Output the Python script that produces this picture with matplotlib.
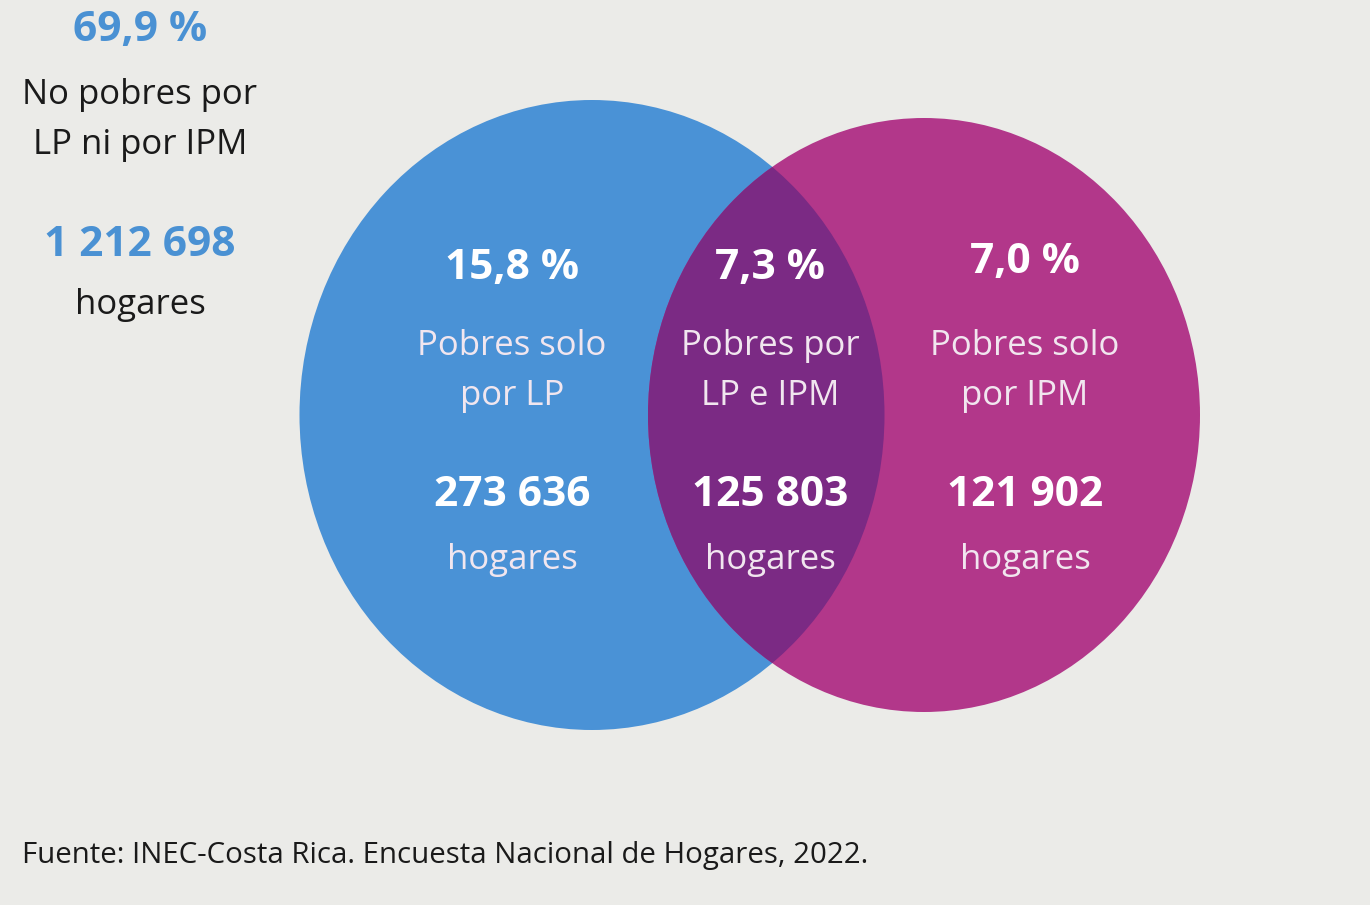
import matplotlib
matplotlib.use("Agg")
import matplotlib.pyplot as plt
from matplotlib.patches import Ellipse

# Data
regions = ["Pobres solo\npor LP", "Pobres por\nLP e IPM", "Pobres solo\npor IPM"]
percents = ["15,8 %", "7,3 %", "7,0 %"]
households = ["273 636", "125 803", "121 902"]
outside_pct = "69,9 %"
outside_label = "No pobres por\nLP ni por IPM"
outside_households = "1 212 698"
unit = "hogares"
source = "Fuente: INEC-Costa Rica. Encuesta Nacional de Hogares, 2022."

plt.rcParams['font.family'] = ['Open Sans', 'DejaVu Sans']

fig = plt.figure(figsize=(13.7, 9.05), dpi=100)
fig.patch.set_facecolor("#ebebe8")
ax = fig.add_axes([0, 0, 1, 1])
ax.set_xlim(0, 1370)
ax.set_ylim(905, 0)
ax.axis("off")

blue = "#4a92d6"
magenta = "#b2378a"
overlap = "#7b2a84"

ax.add_patch(Ellipse((592, 415), 585, 630, facecolor=blue, edgecolor="none", zorder=1))
ax.add_patch(Ellipse((924, 415), 552, 594, facecolor=magenta, edgecolor="none", zorder=2))
clip = Ellipse((592, 415), 585, 630, transform=ax.transData, facecolor="none", edgecolor="none")
ax.add_patch(clip)
ov = Ellipse((924, 415), 552, 594, facecolor=overlap, edgecolor="none", zorder=3)
ax.add_patch(ov)
ov.set_clip_path(clip)

xs = [512, 770, 1025]
pct_y = [268, 268, 262]
for x, py, p, r, h in zip(xs, pct_y, percents, regions, households):
    ax.text(x, py, p, ha="center", va="center", color="white", fontsize=30.5,
            fontweight="bold", zorder=5)
    ax.text(x, 371, r, ha="center", va="center", color="#f1e6ef", fontsize=25,
            linespacing=1.6, zorder=5)
    ax.text(x, 495, h, ha="center", va="center", color="white", fontsize=30.5,
            fontweight="bold", zorder=5)
    ax.text(x, 560, unit, ha="center", va="center", color="#f1e6ef", fontsize=25,
            zorder=5)

lblue = "#4a91d3"
ax.text(140, 30, outside_pct, ha="center", va="center", color=lblue, fontsize=30.5,
        fontweight="bold")
ax.text(140, 120, outside_label, ha="center", va="center", color="#1a1a1a",
        fontsize=25, linespacing=1.65)
ax.text(140, 245, outside_households, ha="center", va="center", color=lblue,
        fontsize=30.5, fontweight="bold")
ax.text(140, 305, unit, ha="center", va="center", color="#1a1a1a", fontsize=25)

ax.text(22, 855, source, ha="left", va="center", color="#1a1a1a", fontsize=21.2)

fig.savefig("out.png", dpi=100, facecolor=fig.get_facecolor())
